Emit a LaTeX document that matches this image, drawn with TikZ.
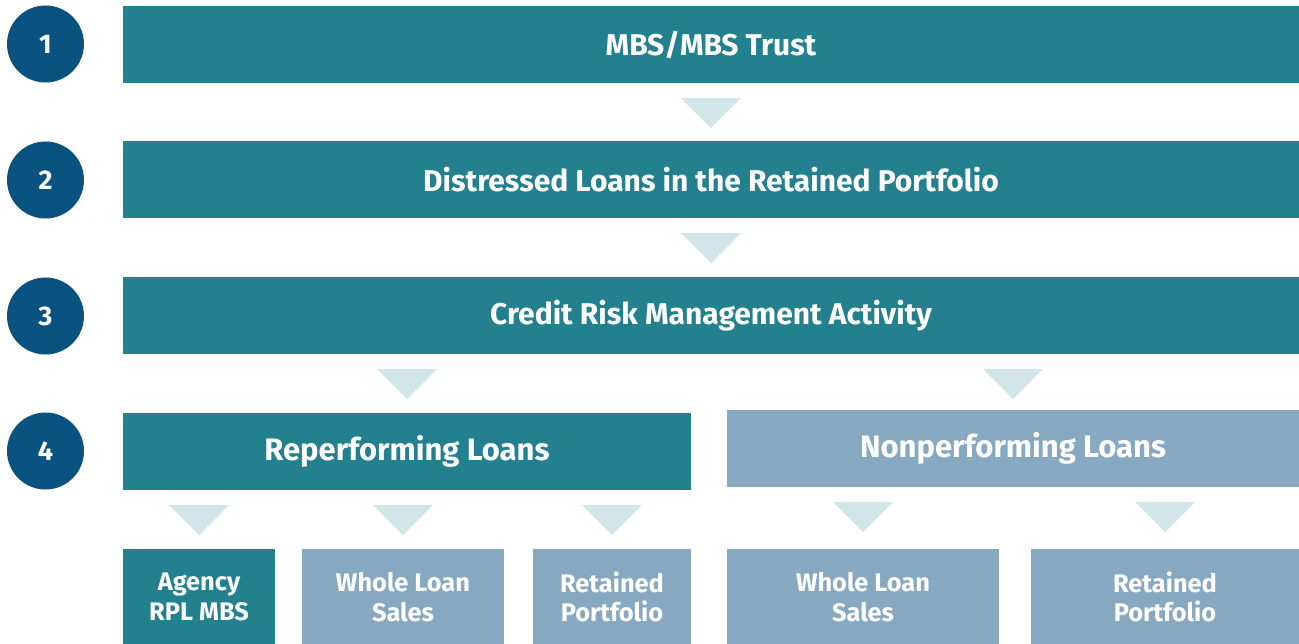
\documentclass[tikz,border=0pt]{standalone}
\usepackage{fontspec}
\setmainfont{Fira Sans}
\usetikzlibrary{calc}
\definecolor{teal1}{HTML}{22808F}
\definecolor{navy1}{HTML}{0A5280}
\definecolor{light1}{HTML}{86A9C1}
\definecolor{tri1}{HTML}{D2E6EA}
\tikzset{
  box/.style={rectangle,inner sep=0pt,text=white,font=\bfseries\fontsize{30}{34}\selectfont,align=center},
  bar/.style={box,fill=teal1,minimum width=1176pt,minimum height=77pt},
  midbox/.style={box,minimum height=77pt,font=\bfseries\fontsize{31}{34}\selectfont},
  subbox/.style={box,minimum height=96pt,font=\bfseries\fontsize{25.4}{29.5}\selectfont},
  numc/.style={circle,fill=navy1,minimum size=77pt,inner sep=0pt,text=white,font=\bfseries\fontsize{27}{30}\selectfont},
  tri/.style={fill=tri1}
}
\newcommand\flowtri[2]{%
  \coordinate (t0) at (#2.north |- #1.south);
  \fill[tri] ($(t0)+(-30,15)$) -- ($(t0)+(30,15)$) -- ($(t0)+(0,45)$) -- cycle;}
\begin{document}
\begin{tikzpicture}[x=1pt,y=-1pt]
\useasboundingbox (0,0) rectangle (1299,644);
\node[numc] (c1) at (45.5,44) {1};
\node[numc] (c2) at (45.5,180) {2};
\node[numc] (c3) at (45.5,316) {3};
\node[numc] (c4) at (45.5,451) {4};
\node[bar] (b1) at (711,44.5) {MBS/MBS Trust};
\node[bar] (b2) at (711,179.5) {Distressed Loans in the Retained Portfolio};
\node[bar] (b3) at (711,315.5) {Credit Risk Management Activity};
\node[midbox,fill=teal1,minimum width=568pt] (rl) at (407,451.5) {Reperforming Loans};
\node[midbox,fill=light1,minimum width=572pt] (npl) at (1013,448.5) {Nonperforming Loans};
\node[subbox,fill=teal1,minimum width=152pt] (ag) at (199,597) {Agency\\RPL MBS};
\node[subbox,fill=light1,minimum width=202pt] (wl1) at (403,597) {Whole Loan\\Sales};
\node[subbox,fill=light1,minimum width=158pt] (rp1) at (612,597) {Retained\\Portfolio};
\node[subbox,fill=light1,minimum width=272pt] (wl2) at (863,597) {Whole Loan\\Sales};
\node[subbox,fill=light1,minimum width=268pt] (rp2) at (1165,597) {Retained\\Portfolio};
\flowtri{b1}{b2}
\flowtri{b2}{b3}
\flowtri{b3}{rl}
\flowtri{b3}{npl}
\flowtri{rl}{ag}
\flowtri{rl}{wl1}
\flowtri{rl}{rp1}
\flowtri{npl}{wl2}
\flowtri{npl}{rp2}
\end{tikzpicture}
\end{document}
